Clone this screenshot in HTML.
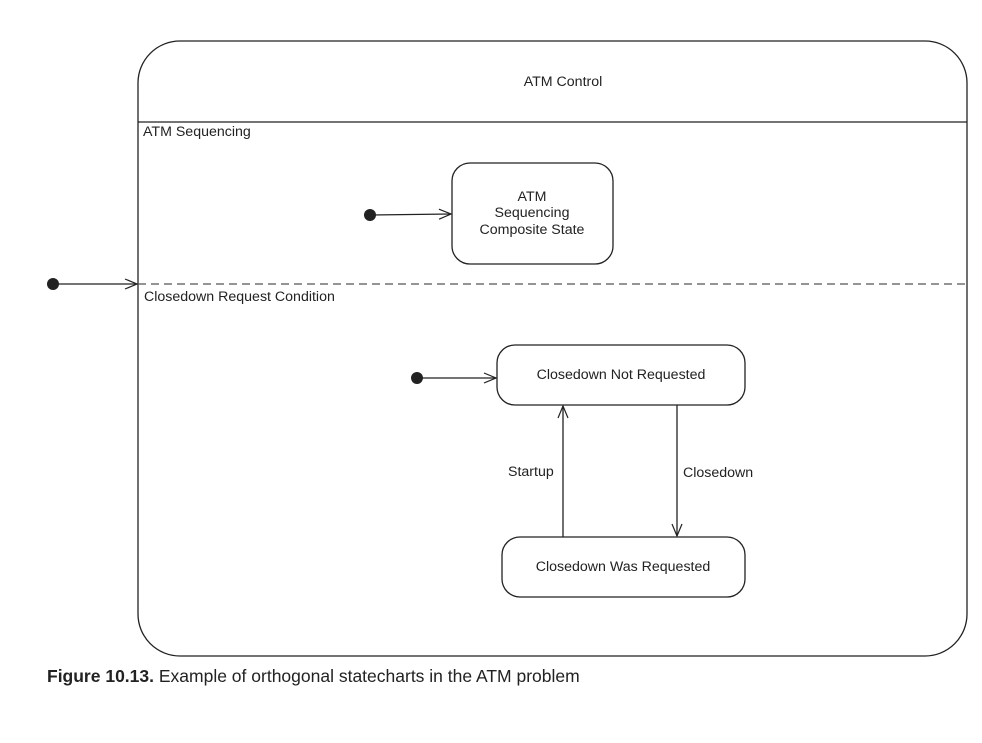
<!DOCTYPE html>
<html><head><style>body{margin:0;background:#fff}</style></head><body>
<svg width="982" height="738" xmlns="http://www.w3.org/2000/svg" font-family="Liberation Sans, sans-serif" font-size="14.2" fill="#222">
<defs><marker id="a" markerWidth="14" markerHeight="12" refX="13" refY="6" orient="auto" markerUnits="userSpaceOnUse"><path d="M1,1 L13,6 L1,11" fill="none" stroke="#222" stroke-width="1.2"/></marker></defs>
<g stroke="#222" stroke-width="1.3" fill="none">
<rect x="138" y="41" width="829" height="615" rx="42" ry="42"/>
<line x1="138" y1="122" x2="967" y2="122"/>
<line x1="138" y1="284" x2="967" y2="284" stroke-dasharray="8,5" stroke="#555"/>
<rect x="452" y="163" width="161" height="101" rx="18"/>
<rect x="497" y="345" width="248" height="60" rx="18"/>
<rect x="502" y="537" width="243" height="60" rx="18"/>
<line x1="53" y1="284" x2="137" y2="284" marker-end="url(#a)"/>
<line x1="370" y1="215" x2="451" y2="214" marker-end="url(#a)"/>
<line x1="417" y1="378" x2="496" y2="378" marker-end="url(#a)"/>
<line x1="563" y1="537" x2="563" y2="406" marker-end="url(#a)"/>
<line x1="677" y1="405" x2="677" y2="536" marker-end="url(#a)"/>
</g>
<circle cx="53" cy="284" r="6"/><circle cx="370" cy="215" r="6"/><circle cx="417" cy="378" r="6"/>
<text x="563" y="86" text-anchor="middle">ATM Control</text>
<text x="143" y="136">ATM Sequencing</text>
<text x="144" y="301">Closedown Request Condition</text>
<text x="532" y="201" text-anchor="middle">ATM</text>
<text x="532" y="217" text-anchor="middle">Sequencing</text>
<text x="532" y="234" text-anchor="middle">Composite State</text>
<text x="621" y="379" text-anchor="middle">Closedown Not Requested</text>
<text x="623" y="571" text-anchor="middle">Closedown Was Requested</text>
<text x="508" y="476">Startup</text>
<text x="683" y="477">Closedown</text>
<text x="47" y="682" font-size="17.5"><tspan font-weight="bold">Figure 10.13.</tspan> Example of orthogonal statecharts in the ATM problem</text>
</svg>
</body></html>
